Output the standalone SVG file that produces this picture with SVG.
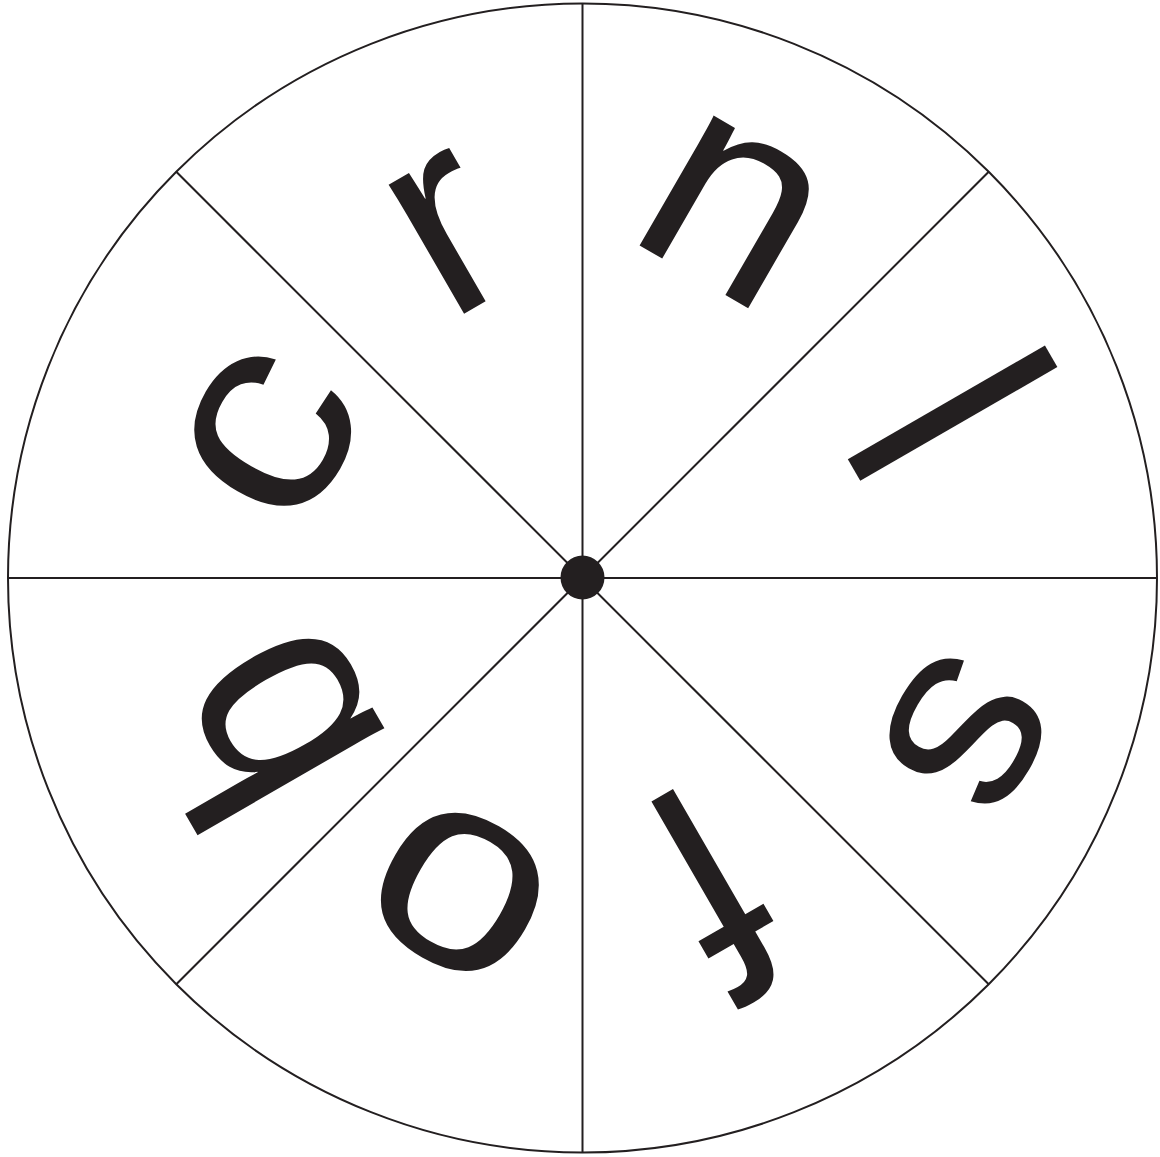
<svg xmlns="http://www.w3.org/2000/svg" width="1160" height="1157" viewBox="0 0 1160 1157">
<style>
.ln{stroke:#231f20;stroke-width:2;fill:none}
.lt{font-family:"Liberation Sans",Arial,sans-serif;font-size:283px;fill:#231f20;text-anchor:middle}
</style>
<rect width="1160" height="1157" fill="#ffffff"/>
<g id="connectors">
<circle class="ln" cx="582.5" cy="578" r="574.5"/>
<line class="ln" x1="582.5" y1="3.5" x2="582.5" y2="1152.5"/>
<line class="ln" x1="8" y1="578" x2="1157" y2="578"/>
<line class="ln" x1="176.3" y1="171.8" x2="988.7" y2="984.2"/>
<line class="ln" x1="988.7" y1="171.8" x2="176.3" y2="984.2"/>
</g>
<g id="hub"><circle cx="582.5" cy="577.5" r="22" fill="#231f20"/></g>
<g id="letter-c" transform="translate(334.7,472.8) rotate(-60)"><text class="lt" transform="scale(1.1,1)">c</text></g>
<g id="letter-r" transform="translate(487.9,300) rotate(-30)"><text class="lt">r</text></g>
<g id="letter-n" transform="translate(693.3,276.5) rotate(30)"><text class="lt" transform="scale(1.05,1)">n</text></g>
<g id="letter-l" transform="translate(854,470) rotate(60)"><text class="lt" transform="scale(1,1.11)">l</text></g>
<g id="letter-s" transform="translate(904.3,697.3) rotate(120)"><text class="lt" transform="scale(0.98,0.95)">s</text></g>
<g id="letter-f" transform="translate(660.6,796.2) rotate(150)"><text class="lt" transform="scale(1,1.1)">f</text></g>
<g id="letter-o" transform="translate(497,828.3) rotate(210)"><text class="lt" transform="scale(1.12,0.98)">o</text></g>
<g id="letter-b" transform="translate(354.2,675.9) rotate(-120)"><text class="lt" transform="scale(1,1.05)">b</text></g>
</svg>
